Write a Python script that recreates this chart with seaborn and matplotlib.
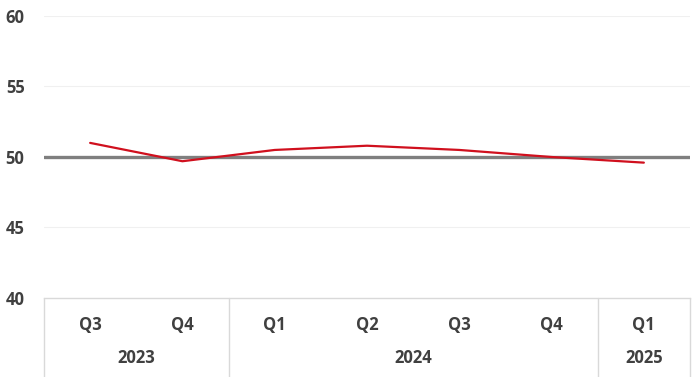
import matplotlib
matplotlib.use("Agg")
import matplotlib.pyplot as plt
import matplotlib.transforms as mtransforms
import seaborn as sns
import pandas as pd

quarters = ["Q3", "Q4", "Q1", "Q2", "Q3", "Q4", "Q1"]
years = ["2023", "2023", "2024", "2024", "2024", "2024", "2025"]
values = [51.0, 49.7, 50.5, 50.8, 50.5, 50.0, 49.6]

df = pd.DataFrame({"idx": range(len(values)), "value": values})

sns.set_style("white")
plt.rcParams["font.family"] = ["Open Sans", "DejaVu Sans"]
text_color = "#404040"

fig = plt.figure(figsize=(7, 3.77), dpi=100)
ax = fig.add_axes([44 / 700, 1 - 298 / 377, (690 - 44) / 700, (298 - 16) / 377])

# gridlines
for y in [45, 55, 60]:
    ax.axhline(y, color="#f0f0f0", lw=0.8, zorder=0)
ax.axhline(50, color="#7f7f7f", lw=2.4, zorder=1)

sns.lineplot(data=df, x="idx", y="value", color="#d0101e", lw=1.6, ax=ax, zorder=3)

ax.set_xlim(-0.5, len(values) - 0.5)
ax.set_ylim(40, 60)
ax.set_yticks([40, 45, 50, 55, 60])
ax.set_yticklabels(["40", "45", "50", "55", "60"], fontsize=12, fontweight="bold", color=text_color)
ax.tick_params(axis="y", length=0, pad=14)
ax.set_xticks([])
ax.set_xlabel("")
ax.set_ylabel("")
for s in ["top", "right", "left"]:
    ax.spines[s].set_visible(False)
ax.spines["bottom"].set_color("#d9d9d9")
ax.spines["bottom"].set_linewidth(1)

trans = mtransforms.blended_transform_factory(ax.transData, fig.transFigure)
q_y = 1 - 325 / 377
yr_y = 1 - 358 / 377
for i, q in enumerate(quarters):
    fig.text(i, q_y, q, transform=trans, ha="center", va="center",
             fontsize=12, fontweight="bold", color=text_color)

# year groups
groups = []
for i, yr in enumerate(years):
    if groups and groups[-1][0] == yr:
        groups[-1][2] = i
    else:
        groups.append([yr, i, i])
bounds = [-0.5]
for yr, a, b in groups:
    fig.text((a + b) / 2, yr_y, yr, transform=trans, ha="center", va="center",
             fontsize=12, fontweight="bold", color=text_color)
    bounds.append(b + 0.5)

for b in bounds:
    ax.plot([b, b], [0, 1 - 298 / 377], transform=trans, color="#d9d9d9",
            lw=1, clip_on=False)

fig.savefig("out.png", dpi=100)
